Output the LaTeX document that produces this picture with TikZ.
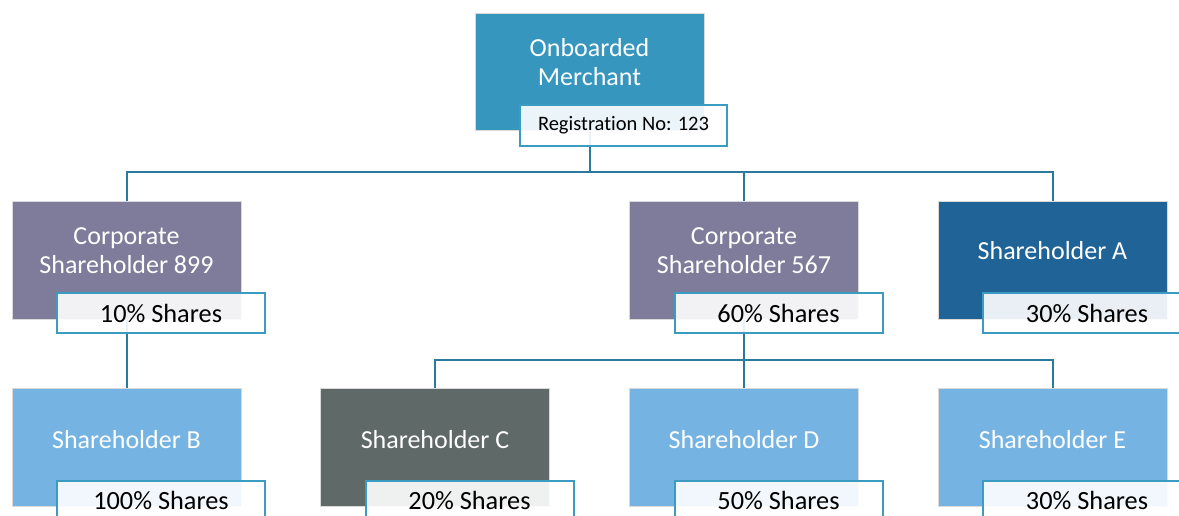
\documentclass[tikz,border=0pt]{standalone}
\usepackage{fontspec}
\setmainfont{Carlito}[Ligatures=NoCommon]
\definecolor{topblue}{HTML}{3696BE}
\definecolor{corpgrey}{HTML}{7F7C9B}
\definecolor{darkblue}{HTML}{1F6397}
\definecolor{lightblue}{HTML}{75B4E2}
\definecolor{slate}{HTML}{5E6968}
\definecolor{tagblue}{HTML}{3B9BC1}
\definecolor{linkblue}{HTML}{2A7A9E}
\begin{document}
\begin{tikzpicture}[x=1pt,y=-1pt,
	box/.style={draw=black!15, line width=1pt, minimum width=229pt, minimum height=118pt, inner sep=0pt},
	boxtext/.style={text=white, align=center, font=\fontsize{26}{29}\selectfont},
	tag/.style={draw=tagblue, line width=2pt, fill=white, fill opacity=0.9, text opacity=1, minimum width=208pt, minimum height=40pt, inner sep=0pt, font=\fontsize{26.3}{29}\selectfont},
	link/.style={draw=linkblue, line width=2pt}]

	\useasboundingbox (0,0) rectangle (1179,515);

	% boxes
	\node[box, fill=topblue, minimum height=117pt] (top) at (589.5,71.5) {};
	\node[box, fill=corpgrey] (cs1) at (126.5,260) {};
	\node[box, fill=corpgrey] (cs2) at (744,260) {};
	\node[box, fill=darkblue] (sha) at (1052.5,260) {};
	\node[box, fill=lightblue] (shb) at (126.5,447.5) {};
	\node[box, fill=slate] (shc) at (435,447.5) {};
	\node[box, fill=lightblue] (shd) at (744,447.5) {};
	\node[box, fill=lightblue] (she) at (1052.5,447.5) {};

	% names
	\node[boxtext] (top-t) at ([yshift=9pt]top.center) {Onboarded\\Merchant};
	\node[boxtext] (cs1-t) at ([yshift=9pt]cs1.center) {Corporate\\Shareholder 899};
	\node[boxtext] (cs2-t) at ([yshift=9pt]cs2.center) {Corporate\\Shareholder 567};
	\node[boxtext] (sha-t) at ([yshift=9pt]sha.center) {Shareholder A};
	\node[boxtext] (shb-t) at ([yshift=7.5pt]shb.center) {Shareholder B};
	\node[boxtext] (shc-t) at ([yshift=7.5pt]shc.center) {Shareholder C};
	\node[boxtext] (shd-t) at ([yshift=7.5pt]shd.center) {Shareholder D};
	\node[boxtext] (she-t) at ([yshift=7.5pt]she.center) {Shareholder E};

	% links
	\coordinate (bus1) at (589.5,172);
	\coordinate (bus2) at (744,360);
	\draw[link] (top.south) -- (bus1) -| (cs1.north);
	\draw[link] (bus1) -| (cs2.north);
	\draw[link] (bus1) -| (sha.north);
	\draw[link] (cs1.south) -- (shb.north);
	\draw[link] (cs2.south) -- (bus2) -| (shc.north);
	\draw[link] (bus2) -| (shd.north);
	\draw[link] (bus2) -| (she.north);

	% tags
	\node[tag, minimum width=207pt, minimum height=41pt, font=\fontsize{20.5}{24}\selectfont] (top-n) at ([xshift=34pt,yshift=-54pt]top.center) {Registration No: 123};
	\node[tag] (cs1-n) at ([xshift=34.5pt,yshift=-53pt]cs1.center) {10\% Shares};
	\node[tag] (cs2-n) at ([xshift=34.5pt,yshift=-53pt]cs2.center) {60\% Shares};
	\node[tag] (sha-n) at ([xshift=34.5pt,yshift=-53pt]sha.center) {30\% Shares};
	\node[tag] (shb-n) at ([xshift=34.5pt,yshift=-53pt]shb.center) {100\% Shares};
	\node[tag] (shc-n) at ([xshift=34.5pt,yshift=-53pt]shc.center) {20\% Shares};
	\node[tag] (shd-n) at ([xshift=34.5pt,yshift=-53pt]shd.center) {50\% Shares};
	\node[tag] (she-n) at ([xshift=34.5pt,yshift=-53pt]she.center) {30\% Shares};

\end{tikzpicture}
\end{document}
